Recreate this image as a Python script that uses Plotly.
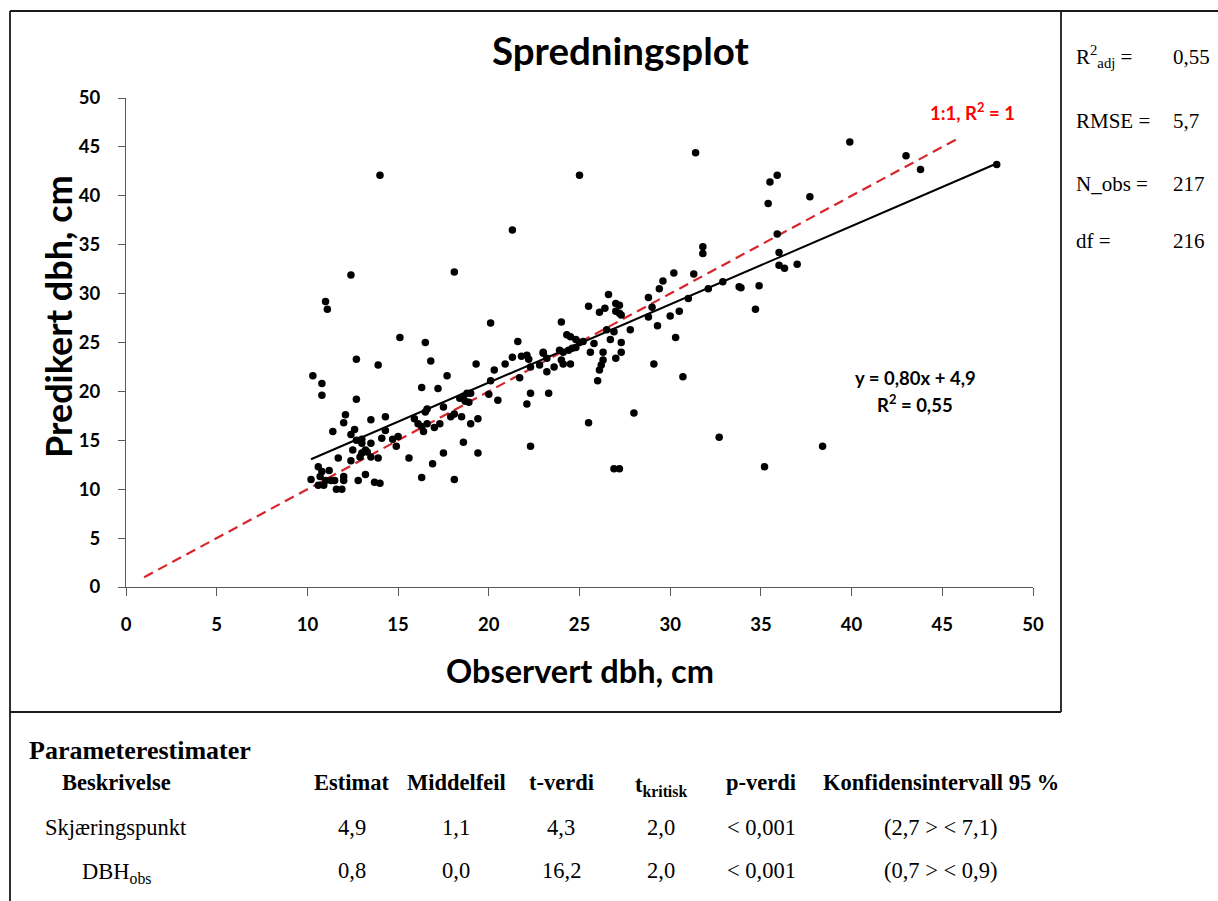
import plotly.graph_objects as go

# Observed vs predicted diameter at breast height (cm)
obs_dbh = [
    14.0, 12.4, 18.1, 21.3, 25.0, 31.4, 11.0, 11.1, 20.1, 15.1, 16.5, 21.6,
    12.7, 16.8, 13.9, 19.3, 10.3, 17.7, 10.8, 10.8, 16.3, 17.2, 20.3, 20.9,
    21.3, 21.8, 22.2, 23.0, 23.2, 22.3, 23.2, 21.7, 20.1, 22.3, 23.3, 22.1,
    20.0, 20.5, 19.0, 18.6, 18.8, 18.4, 18.7, 18.9, 18.1, 17.9, 18.5, 19.0,
    19.4, 17.5, 16.6, 16.5, 15.9, 16.1, 16.3, 16.4, 16.6, 17.0, 17.3, 14.3,
    13.5, 12.1, 12.0, 11.4, 12.6, 12.4, 14.3, 14.1, 14.7, 15.0, 14.9, 12.7,
    13.0, 13.0, 13.5, 12.5, 13.0, 13.2, 13.3, 12.9, 13.5, 13.9, 11.7, 12.4,
    15.6, 16.9, 17.5, 18.6, 19.4, 16.3, 18.1, 13.2, 12.8, 13.7, 14.0, 10.6,
    10.8, 10.7, 11.0, 11.2, 11.3, 11.5, 10.2, 10.6, 10.9, 11.6, 11.9, 12.0,
    12.0, 22.3, 12.7, 31.8, 30.2, 31.3, 29.6, 29.4, 32.9, 32.1, 33.8, 34.9,
    34.7, 28.8, 29.0, 28.8, 30.0, 30.5, 31.0, 29.3, 30.3, 29.1, 30.7, 26.6,
    25.5, 26.1, 26.4, 27.0, 27.2, 27.0, 27.2, 27.3, 24.0, 26.5, 26.9, 27.8,
    25.8, 26.7, 27.3, 25.6, 26.3, 26.3, 26.2, 26.1, 26.0, 27.3, 27.0, 24.3,
    24.5, 24.8, 25.0, 25.2, 23.9, 24.1, 24.4, 24.6, 24.8, 24.0, 24.1, 24.5,
    23.6, 22.8, 23.0, 22.1, 25.5, 28.0, 32.7, 39.9, 43.0, 43.8, 48.0, 35.9,
    35.5, 35.4, 37.7, 35.9, 36.0, 36.0, 36.3, 37.0, 33.9, 38.4, 35.2, 26.9,
    27.2, 31.8,
]
pred_dbh = [
    42.1, 31.9, 32.2, 36.5, 42.1, 44.4, 29.2, 28.4, 27.0, 25.5, 25.0, 25.1,
    23.3, 23.1, 22.7, 22.8, 21.6, 21.6, 20.8, 19.6, 20.4, 20.3, 22.2, 22.8,
    23.5, 23.6, 23.3, 23.9, 23.4, 22.5, 22.0, 21.4, 21.1, 19.8, 19.8, 18.7,
    19.7, 19.1, 19.8, 19.5, 19.8, 19.3, 19.0, 18.9, 17.7, 17.4, 17.4, 16.7,
    17.2, 18.4, 18.2, 17.9, 17.2, 16.7, 16.4, 15.9, 16.7, 16.3, 16.7, 17.4,
    17.1, 17.6, 16.8, 15.9, 16.1, 15.6, 16.0, 15.2, 15.1, 15.4, 14.4, 15.0,
    15.1, 14.7, 14.7, 14.0, 13.7, 14.0, 13.8, 13.3, 13.3, 13.2, 13.2, 12.9,
    13.2, 12.6, 13.7, 14.8, 13.7, 11.2, 11.0, 11.5, 10.9, 10.7, 10.6, 12.3,
    11.8, 11.3, 10.9, 11.9, 10.9, 10.9, 11.0, 10.4, 10.4, 10.0, 10.0, 11.3,
    10.9, 14.4, 19.2, 34.1, 32.1, 32.0, 31.3, 30.5, 31.2, 30.5, 30.7, 30.8,
    28.4, 29.6, 28.6, 27.6, 27.7, 28.2, 29.5, 26.7, 25.5, 22.8, 21.5, 29.9,
    28.7, 28.1, 28.5, 29.0, 28.8, 28.2, 28.0, 27.8, 27.1, 26.3, 26.1, 26.3,
    24.9, 25.3, 25.0, 24.0, 24.0, 23.2, 22.7, 22.2, 21.1, 24.0, 23.4, 25.8,
    25.6, 25.3, 25.0, 25.1, 24.2, 24.0, 24.2, 24.4, 24.5, 23.2, 22.8, 22.8,
    22.5, 22.7, 24.0, 23.7, 16.8, 17.8, 15.3, 45.5, 44.1, 42.7, 43.2, 42.1,
    41.4, 39.2, 39.9, 36.1, 34.2, 32.9, 32.6, 33.0, 30.6, 14.4, 12.3, 12.1,
    12.1, 34.8,
]

# Regression fit and 1:1 reference
fit_slope = 0.80
fit_intercept = 4.9
fit_r2 = 0.55
fit_x_range = [10.2, 48.0]
one_to_one_range = [1.0, 46.0]

axis_ticks = [0, 5, 10, 15, 20, 25, 30, 35, 40, 45, 50]

# Model statistics
stat_labels = ["R<sup>2</sup><sub>adj</sub> =", "RMSE =", "N_obs =", "df ="]
stat_values = ["0,55", "5,7", "217", "216"]

# Parameter estimates table
table_title = "Parameterestimater"
table_headers = ["Beskrivelse", "Estimat", "Middelfeil", "t-verdi",
                 "t<sub>kritisk</sub>", "p-verdi", "Konfidensintervall 95 %"]
row_names = ["Skjæringspunkt", "DBH<sub>obs</sub>"]
estimat = ["4,9", "0,8"]
middelfeil = ["1,1", "0,0"]
t_verdi = ["4,3", "16,2"]
t_kritisk = ["2,0", "2,0"]
p_verdi = ["< 0,001", "< 0,001"]
konfidens = ["(2,7 > < 7,1)", "(0,7 > < 0,9)"]


def fmt(v, nd):
    return f"{v:.{nd}f}".replace(".", ",")


W, H = 1218, 901
L, R, T, B = 126, 185, 98, 314
PW, PH = W - L - R, H - T - B


def px(x):
    return (x - L) / PW


def py(y):
    return (H - B - y) / PH


SANS = "Lato"
SERIF = "Liberation Serif"

fig = go.Figure()

fig.add_trace(go.Scatter(
    x=one_to_one_range, y=one_to_one_range, mode="lines",
    line=dict(color="#d7262b", width=2.2, dash="10px,6px"),
    hoverinfo="skip", showlegend=False))

fit_y = [fit_slope * v + fit_intercept for v in fit_x_range]
fig.add_trace(go.Scatter(
    x=fit_x_range, y=fit_y, mode="lines",
    line=dict(color="black", width=2),
    hoverinfo="skip", showlegend=False))

fig.add_trace(go.Scatter(
    x=obs_dbh, y=pred_dbh, mode="markers",
    marker=dict(color="black", size=7.5),
    showlegend=False))

axis_common = dict(
    range=[0, 50], tickvals=axis_ticks, showgrid=False, zeroline=False,
    showline=True, linecolor="#595959", linewidth=1.3, ticks="outside",
    tickcolor="#595959", tickwidth=1.3, fixedrange=True,
    tickfont=dict(family=SANS, size=18.5, color="black", weight="bold"))

fig.update_xaxes(**axis_common, ticklen=8, ticklabelstandoff=13)
fig.update_yaxes(**axis_common, ticklen=7, ticklabelstandoff=14)

ann = []


def text(x, y, s, size, family=SANS, bold=False, color="black",
         xanchor="center", yanchor="middle", textangle=0):
    ann.append(dict(
        x=px(x), y=py(y), xref="paper", yref="paper", text=s,
        showarrow=False, xanchor=xanchor, yanchor=yanchor, textangle=textangle,
        font=dict(family=family, size=size, color=color,
                  weight="bold" if bold else "normal")))


text(620, 50, "Spredningsplot", 38.5, bold=True)
text(580, 670, "Observert dbh, cm", 32.5, bold=True)
text(58, 317, "Predikert dbh, cm", 36, bold=True, textangle=-90)
text(972, 111, "1:1, R<sup>2</sup> = 1", 18.5, bold=True, color="#ff0000")
text(915, 378, f"y = {fmt(fit_slope, 2)}x + {fmt(fit_intercept, 1)}", 18.5, bold=True)
text(915, 403, f"R<sup>2</sup> = {fmt(fit_r2, 2)}", 18.5, bold=True)

stat_rows_y = [57, 121, 184, 241]
for lab, val, yy in zip(stat_labels, stat_values, stat_rows_y):
    text(1074, yy, lab, 21, family=SERIF, xanchor="left")
    text(1171, yy, val, 21, family=SERIF, xanchor="left")

text(27, 750, table_title, 26, family=SERIF, bold=True, xanchor="left")
col_x = [116, 352, 456, 561, 661, 761, 941]
for cx, h in zip(col_x, table_headers):
    yy = 786 if "<sub>" in h else 782
    text(cx, yy, h, 22.5, family=SERIF, bold=True)

table_rows = [row_names, estimat, middelfeil, t_verdi, t_kritisk, p_verdi, konfidens]
row_y = [827, 870]
for cx, col in zip(col_x, table_rows):
    for yy, cell in zip(row_y, col):
        text(cx, yy + (3 if "<sub>" in cell else 0), cell, 22.5, family=SERIF)

fig.update_layout(annotations=ann)

# Chart frame and surrounding rules
frame = "#1a1a1a"
shapes = [
    dict(x0=px(10), x1=px(1218), y0=py(11), y1=py(11)),
    dict(x0=px(10), x1=px(10), y0=py(11), y1=py(901)),
    dict(x0=px(1061), x1=px(1061), y0=py(11), y1=py(712)),
    dict(x0=px(10), x1=px(1061), y0=py(712), y1=py(712)),
]
fig.update_layout(shapes=[dict(type="line", xref="paper", yref="paper",
                               line=dict(color=frame, width=1.8), **s) for s in shapes])

fig.update_layout(
    width=W, height=H,
    margin=dict(l=L, r=R, t=T, b=B),
    paper_bgcolor="white", plot_bgcolor="white",
    showlegend=False,
)

fig.write_html("out.html")
